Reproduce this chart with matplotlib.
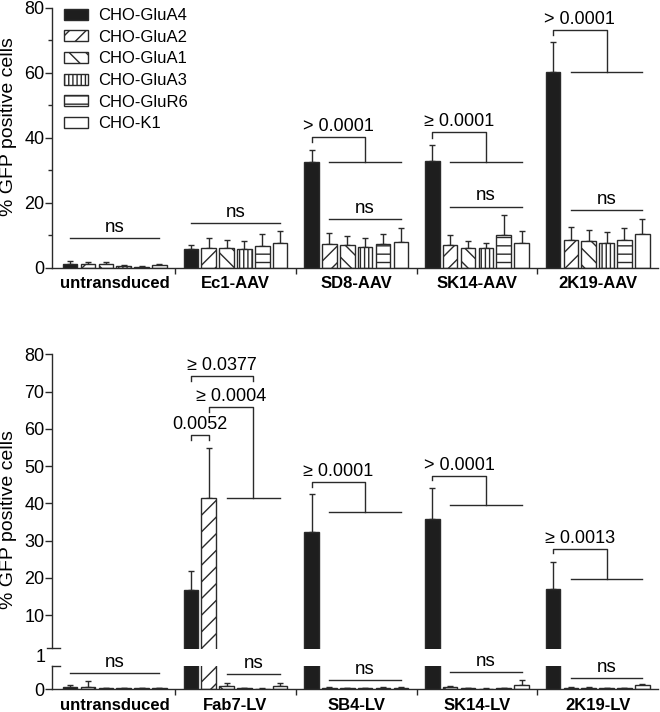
import numpy as np
import matplotlib
matplotlib.use("Agg")
import matplotlib.pyplot as plt
from matplotlib.patches import Patch

plt.rcParams['font.family'] = ['Liberation Sans', 'DejaVu Sans']
plt.rcParams['hatch.linewidth'] = 1.0
plt.rcParams['hatch.color'] = '#222222'

# =========================
# Data
# =========================
series = ['CHO-GluA4', 'CHO-GluA2', 'CHO-GluA1', 'CHO-GluA3', 'CHO-GluR6', 'CHO-K1']

groups_aav = ['untransduced', 'Ec1-AAV', 'SD8-AAV', 'SK14-AAV', '2K19-AAV']
aav_glua4 = [1.3, 5.7, 32.7, 32.9, 60.2]
aav_glua2 = [1.3, 6.3, 7.4, 7.0, 8.5]
aav_glua1 = [1.1, 6.3, 7.1, 6.0, 8.2]
aav_glua3 = [0.6, 5.9, 6.6, 6.0, 7.8]
aav_glur6 = [0.4, 6.9, 7.3, 10.3, 8.7]
aav_k1 = [0.8, 7.8, 8.1, 7.7, 10.4]
aav_glua4_sd = [0.8, 1.5, 3.6, 4.9, 9.2]
aav_glua2_sd = [0.5, 3.0, 3.3, 3.3, 4.1]
aav_glua1_sd = [0.6, 2.2, 2.8, 2.3, 3.4]
aav_glua3_sd = [0.2, 2.4, 2.7, 1.8, 3.3]
aav_glur6_sd = [0.1, 3.7, 3.2, 5.9, 3.6]
aav_k1_sd = [0.3, 3.6, 4.1, 3.6, 4.8]

groups_lv = ['untransduced', 'Fab7-LV', 'SB4-LV', 'SK14-LV', '2K19-LV']
lv_glua4 = [0.08, 16.8, 32.4, 35.8, 16.9]
lv_glua2 = [0.11, 41.4, 0.07, 0.08, 0.07]
lv_glua1 = [0.05, 0.14, 0.05, 0.05, 0.06]
lv_glua3 = [0.05, 0.05, 0.04, 0.03, 0.04]
lv_glur6 = [0.05, 0.03, 0.07, 0.04, 0.05]
lv_k1 = [0.05, 0.14, 0.06, 0.18, 0.17]
lv_glua4_sd = [0.10, 5.1, 10.0, 8.2, 7.4]
lv_glua2_sd = [0.24, 13.4, 0.02, 0.04, 0.03]
lv_glua1_sd = [0.02, 0.11, 0.02, 0.02, 0.02]
lv_glua3_sd = [0.02, 0.02, 0.01, 0.01, 0.01]
lv_glur6_sd = [0.01, 0.01, 0.02, 0.01, 0.02]
lv_k1_sd = [0.02, 0.13, 0.02, 0.20, 0.05]

# significance: (group, left bar, first bar, last bar, top, left leg end, right leg end, label, draw line)
sig_aav = [(2, 0, 1, 5, 40.4, 38.9, 32.7, '> 0.0001', True),
           (3, 0, 1, 5, 41.7, 39.9, 32.7, '≥ 0.0001', True),
           (4, 0, 1, 5, 73.2, 71.7, 60.2, '> 0.0001', True)]
ns_aav = [(0, 0, 5, 9.1), (1, 0, 5, 13.9), (2, 1, 5, 15.1), (3, 1, 5, 18.9), (4, 1, 5, 17.8)]

sig_lv = [(1, 0, 1, 1, 58.4, 57.0, 57.0, '0.0052', False),
          (1, 0, 2, 5, 74.2, 72.9, 72.9, '≥ 0.0377', False),
          (1, 1, 2, 5, 66.0, 64.6, 41.4, '≥ 0.0004', True),
          (2, 0, 1, 5, 45.7, 44.5, 37.8, '≥ 0.0001', True),
          (3, 0, 1, 5, 47.4, 46.3, 39.6, '> 0.0001', True),
          (4, 0, 1, 5, 27.7, 26.6, 19.8, '≥ 0.0013', True)]
ns_lv = [(0, 0, 5, 0.70), (1, 2, 5, 0.65), (2, 1, 5, 0.39), (3, 1, 5, 0.72), (4, 1, 5, 0.49)]

# =========================
# Styles
# =========================
dark = '#1e1e1e'
line_c = '#2a2a2a'
fills = [dark, 'white', 'white', 'white', 'white', 'white']
hatches = [None, '//', '\\\\', '||||', '--', None]
pitch = 0.148
width = 0.12
FS = 13
FS_NS = 13.5


def xpos(g, k):
    return g + 0.5 + (k - 2.5) * pitch


def draw_bars(ax, vals, sds):
    x = np.arange(5)
    for k in range(6):
        ax.bar(x + 0.5 + (k - 2.5) * pitch, vals[k], width, color=fills[k],
               edgecolor=line_c, linewidth=1.0, hatch=hatches[k], zorder=2)
        ax.errorbar(x + 0.5 + (k - 2.5) * pitch, vals[k],
                    yerr=[np.zeros(5), sds[k]], fmt='none', ecolor=line_c,
                    elinewidth=1.0, capsize=2.5, capthick=1.0, zorder=1)


def bracket(ax, g, kl, k0, k1, top, lend, rend, label, line):
    xl = xpos(g, kl)
    xr = (xpos(g, k0) + xpos(g, k1)) / 2
    ax.plot([xl, xl, xr, xr], [lend, top, top, rend], color=line_c, lw=1.0,
            clip_on=False)
    if line:
        ax.plot([xpos(g, k0), xpos(g, k1)], [rend, rend], color=line_c, lw=1.0,
                clip_on=False)
    ax.annotate(label, ((xl + xr) / 2, top), xytext=(0, 1.5),
                textcoords='offset points', ha='center', va='bottom',
                fontsize=FS)


def ns_line(ax, g, k0, k1, y):
    ax.plot([xpos(g, k0), xpos(g, k1)], [y, y], color=line_c, lw=1.0,
            clip_on=False)
    ax.annotate('ns', ((xpos(g, k0) + xpos(g, k1)) / 2, y), xytext=(0, 1.5),
                textcoords='offset points', ha='center', va='bottom',
                fontsize=FS_NS)


def style_x(ax, labels):
    ax.set_xlim(-0.02, 5.0)
    ax.set_xticks([1, 2, 3, 4])
    ax.set_xticklabels([])
    ax.set_xticks(np.arange(5) + 0.5, minor=True)
    ax.set_xticklabels(labels, minor=True, fontweight='bold', fontsize=12)
    ax.tick_params(axis='x', which='major', length=4, width=1.0, color=line_c)
    ax.tick_params(axis='x', which='minor', length=0, pad=6)


fig = plt.figure(figsize=(6.6, 7.12), dpi=100)

# =========================
# Top panel (AAV)
# =========================
ax = fig.add_axes([52 / 660, 1 - 268 / 712, 606 / 660, 260 / 712])
draw_bars(ax, [aav_glua4, aav_glua2, aav_glua1, aav_glua3, aav_glur6, aav_k1],
          [aav_glua4_sd, aav_glua2_sd, aav_glua1_sd, aav_glua3_sd, aav_glur6_sd, aav_k1_sd])
ax.set_ylim(0, 80)
ax.set_yticks([0, 20, 40, 60, 80])
ax.set_yticks([10, 30, 50, 70], minor=True)
ax.tick_params(axis='y', which='major', length=5, width=1.0, labelsize=FS,
               color=line_c, pad=0.5)
ax.tick_params(axis='y', which='minor', length=3, width=1.0, color=line_c)
style_x(ax, groups_aav)
for s in ['top', 'right']:
    ax.spines[s].set_visible(False)
for s in ['left', 'bottom']:
    ax.spines[s].set_color(line_c)
    ax.spines[s].set_linewidth(1.0)
for b in sig_aav:
    bracket(ax, *b)
for n in ns_aav:
    ns_line(ax, *n)

handles = [Patch(facecolor=fills[k], edgecolor=line_c, hatch=hatches[k], linewidth=1.0)
           for k in range(6)]
ax.legend(handles, series, loc='upper left', bbox_to_anchor=(0.0, 1.045),
          frameon=False, fontsize=12, handlelength=1.45, handleheight=0.65,
          handletextpad=0.6, labelspacing=0.4, borderaxespad=0.3)
fig.text(9 / 660, 1 - 127 / 712, '% GFP positive cells', rotation=90,
         ha='center', va='center', fontsize=14)

# =========================
# Bottom panel (LV), segmented y axis
# =========================
ax_hi = fig.add_axes([52 / 660, 1 - 648.5 / 712, 606 / 660, 294 / 712])
ax_lo = fig.add_axes([52 / 660, 1 - 689.3 / 712, 606 / 660, 23.6 / 712])
lv_vals = [lv_glua4, lv_glua2, lv_glua1, lv_glua3, lv_glur6, lv_k1]
lv_sds = [lv_glua4_sd, lv_glua2_sd, lv_glua1_sd, lv_glua3_sd, lv_glur6_sd, lv_k1_sd]
draw_bars(ax_hi, lv_vals, lv_sds)
draw_bars(ax_lo, lv_vals, lv_sds)

ax_hi.set_ylim(1, 80)
ax_hi.set_yticks(np.arange(10, 81, 10))
ax_hi.tick_params(axis='y', length=5, width=1.0, labelsize=FS, color=line_c, pad=0.5)
ax_hi.set_xlim(-0.02, 5.0)
ax_hi.set_xticks([])
for s in ['top', 'right', 'bottom']:
    ax_hi.spines[s].set_visible(False)
ax_hi.spines['left'].set_color(line_c)
ax_hi.spines['left'].set_linewidth(1.0)

ax_lo.set_ylim(0, 1)
ax_lo.set_yticks([0])
ax_lo.tick_params(axis='y', length=5, width=1.0, labelsize=FS, color=line_c, pad=0.5)
style_x(ax_lo, groups_lv)
for s in ['top', 'right']:
    ax_lo.spines[s].set_visible(False)
for s in ['left', 'bottom']:
    ax_lo.spines[s].set_color(line_c)
    ax_lo.spines[s].set_linewidth(1.0)
ax_lo.set_zorder(3)
ax_lo.patch.set_visible(False)

# segment caps and the "1" label
px = 1 / 606
ax_hi.plot([-5 * px, 8 * px], [1, 1], color=line_c, lw=1.0, clip_on=False,
           transform=ax_hi.get_yaxis_transform())
ax_lo.plot([0, 8 * px], [1, 1], color=line_c, lw=1.0, clip_on=False,
           transform=ax_lo.get_yaxis_transform())
ax_lo.text(-6 * px, 1.35, '1', transform=ax_lo.get_yaxis_transform(),
           ha='right', va='center', fontsize=FS)

for b in sig_lv:
    bracket(ax_hi, *b)
for n in ns_lv:
    ns_line(ax_lo, *n)

fig.text(9 / 660, 1 - 520 / 712, '% GFP positive cells', rotation=90,
         ha='center', va='center', fontsize=14)

plt.savefig('out.png', dpi=100)
